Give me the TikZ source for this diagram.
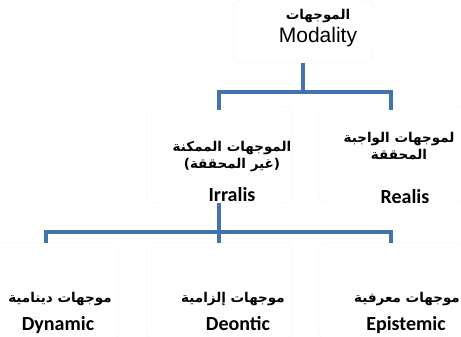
\documentclass[tikz,border=0pt]{standalone}
\usepackage{fontspec}
\setmainfont{Carlito}
\newfontfamily\arabicfont[Script=Arabic]{DejaVu Sans}
\newfontfamily\arialfont{Liberation Sans}
\TeXXeTstate=1
\usetikzlibrary{positioning}
\definecolor{branchblue}{RGB}{68,114,175}
\definecolor{boxedge}{RGB}{242,242,242}

\begin{document}
\begin{tikzpicture}[
  x=1pt, y=-1pt,
  catbox/.style={draw=boxedge, rounded corners=8pt, minimum width=145pt, minimum height=97pt, inner sep=0pt},
  topbox/.style={draw=boxedge, rounded corners=8pt, minimum width=140pt, minimum height=63pt, inner sep=0pt},
  artext/.style={font=\arabicfont\fontsize{13.5}{17}\selectfont\bfseries, align=center, inner sep=0pt},
  entext/.style={font=\fontsize{20}{22}\selectfont\bfseries, inner sep=0pt, anchor=base},
  branch/.style={draw=branchblue, line width=3.2pt}
]
\useasboundingbox (0,0) rectangle (461,337);

% boxes
\node[topbox] (modality) at (303,31.5) {};
\node[catbox] (irralis) at (219,154.5) {};
\node[catbox] (realis) at (391,154.5) {};
\node[catbox] (dynamic) at (46,291) {};
\node[catbox] (deontic) at (219,291) {};
\node[catbox] (epistemic) at (391,291) {};

% texts
\node[artext] (modality-ar) at (318,16) {\beginR الموجهات\endR};
\node[font=\arialfont\fontsize{21}{24}\selectfont, inner sep=0pt, anchor=base] (modality-en) at (318,43) {Modality};

\node[artext] (irralis-ar) at (232,157) {\beginR الموجهات الممكنة\endR\\\beginR (غير المحققة)\endR};
\node[entext] (irralis-en) at (232,201) {Irralis};

\node[artext] (realis-ar) at (399,146) {\beginR لموجهات الواجبة\endR\\\beginR المحققة\endR};
\node[entext] (realis-en) at (405,203) {Realis};

\node[artext] (dynamic-ar) at (60,299) {\beginR موجهات دينامية\endR};
\node[entext] (dynamic-en) at (58,330) {Dynamic};
\node[artext] (deontic-ar) at (233,299) {\beginR موجهات إلزامية\endR};
\node[entext] (deontic-en) at (238,330) {Deontic};
\node[artext] (epistemic-ar) at (407,299) {\beginR موجهات معرفية\endR};
\node[entext] (epistemic-en) at (406,330) {Epistemic};

% branches
\coordinate (split-top) at (303,92);
\coordinate (split-low) at (219,232);
\draw[branch] (modality.south) -- (split-top);
\draw[branch] (split-top) -| ([yshift=-4pt]irralis.north);
\draw[branch] (split-top) -| ([yshift=-4pt]realis.north);
\draw[branch] (irralis.south) -- (split-low);
\draw[branch] (split-low) -| ([yshift=-1pt]dynamic.north);
\draw[branch] (split-low) -- ([yshift=-1pt]deontic.north);
\draw[branch] (split-low) -| ([yshift=-1pt]epistemic.north);
\end{tikzpicture}
\end{document}
